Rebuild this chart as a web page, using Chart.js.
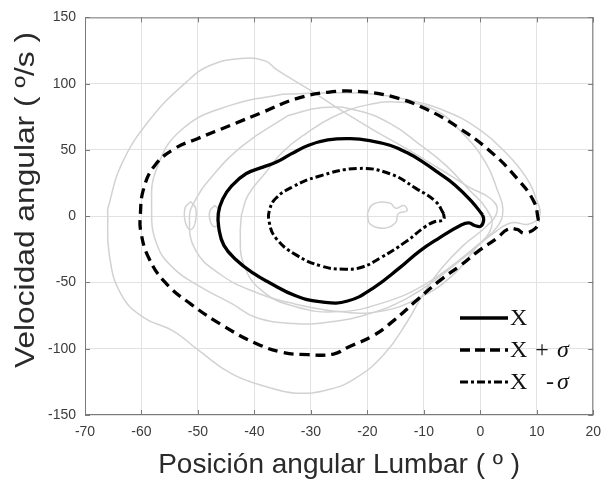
<!DOCTYPE html>
<html>
<head>
<meta charset="utf-8">
<script src="https://cdn.jsdelivr.net/npm/chart.js@4.4.1/dist/chart.umd.min.js"></script>
<style>
  html, body { margin: 0; padding: 0; background: #fff; }
  #wrap { width: 610px; height: 482px; }
</style>
</head>
<body>
<div id="wrap"><canvas id="myChart" width="610" height="482"></canvas></div>
<script>
// 축 눈금
const xTicks = [-70, -60, -50, -40, -30, -20, -10, 0, 10, 20];
const yTicks = [-150, -100, -50, 0, 50, 100, 150];

// 평균 곡선 (X)
const meanX = [0.4, -1.5, -4.5, -7.5, -10.2, -13, -16, -19.5, -23, -27, -30.4, -33.5, -36, -38.5, -41.5, -44, -45.6, -46.4, -46.3, -45.4, -43.2, -40.2, -37.4, -32.7, -28.1, -23.5, -18.9, -14.3, -10.8, -7.3, -3.3, -2, -1, 0.1, 0.6, 0.4];
const meanY = [1, 11, 23.6, 33, 41, 48, 53.5, 57, 58.5, 57.5, 53.5, 47, 41, 37, 32, 23, 13, 2, -9, -22, -33, -43, -50, -60, -64.7, -64, -54, -39, -26.5, -16.5, -6.4, -5, -7, -7.5, -3, 1];

// X + sigma
const plusX = [10.3, 9.5, 6.5, 1.9, -3.9, -9.7, -15.4, -21.2, -27, -32.7, -38.5, -44.3, -50.1, -54.1, -57.6, -59.6, -60.2, -60.1, -58.7, -55.8, -51.2, -45.4, -39.7, -35, -30.5, -26, -23.5, -18.9, -15.4, -11.4, -7.3, -3.3, -0.4, 3, 4.8, 6.5, 7.8, 9.8, 10.3];
const plusY = [-3, 11, 28.5, 48.5, 67, 81, 90, 94, 93.5, 88.5, 78.5, 68.5, 58.5, 51, 38.5, 21, 1, -12, -31.5, -50, -66.5, -83, -96, -102.7, -104.5, -104, -99, -90, -79, -64, -49, -36.5, -26.5, -16.5, -10, -10, -12.7, -9, -3];

// X - sigma
const minusX = [-6.5, -7.9, -11.4, -16, -21.7, -28.7, -33.3, -36.2, -37.3, -37.4, -36.2, -32.7, -28.1, -24, -21, -17.7, -13.1, -9.7, -8, -6.5, -6.5];
const minusY = [2, 11, 21, 32, 36, 30, 22, 13.5, 5, -4, -16.5, -29, -37.7, -40, -38.5, -31.5, -19, -7.7, -4, -2.7, 2];

// 개별 시행 (회색)
const trial1X = [-66, -63.6, -58.4, -52.1, -48, -42.3, -38, -36.2, -30.5, -24.7, -18.9, -13.1, -7.3, -2, 1.9, 3, 1, -3, -7, -10, -13, -17, -22, -27, -32.7, -37.6, -44, -49.8, -54.4, -59.6, -63.6, -65.7, -66];
const trial1Y = [5, 38.5, 73.5, 101, 113.5, 119, 117, 111, 96, 80, 65, 51, 36, 22, 13, 4, -8, -22, -40, -58, -80, -104, -122, -131, -133.5, -129, -119, -101.5, -86.5, -76.5, -59, -29, 5];
const trial2X = [-35, -28, -20, -13, -6, 0, 4.5, 8, 10, 10.5, 8.5, 5.5, 2, -2, -7, -13, -20, -27, -33, -39.7, -44, -49.7, -54.4, -57.3, -58.2, -57.3, -52.7, -44, -35];
const trial2Y = [92, 93, 92.5, 88, 79, 65, 48, 30, 12, 0, -6, -5, -14, -28, -45, -62, -74, -80, -81, -76.5, -66, -53, -39, -21, 6, 36, 66, 84, 92];
const trial3X = [-34, -42, -47.8, -50.6, -51.5, -50.5, -46, -40, -33, -25, -18, -11, -5, -1, 2, 1, -2, -6, -11, -16, -22, -28, -34];
const trial3Y = [76, 53.5, 28.5, 11, 0, -25, -44, -57, -66, -72, -72, -62, -45, -25, -8, 6, 20, 38, 55, 70, 80, 82, 76];
const trial4X = [-42.3, -41.1, -38, -35, -31, -26, -20, -14, -8, -3, 1, 3, 4, 3, 0, -4, -10, -17, -25, -33, -39, -42, -42.5, -42.3];
const trial4Y = [1, 16, 33, 48.5, 62, 75, 84, 86, 80, 62, 40, 20, 5, -8, -20, -34, -52, -65, -72, -68, -55, -35, -15, 1];
const loopAX = [-51.3, -50.4, -50.5, -51.3, -52.2, -52.3, -51.3];
const loopAY = [11, 6, -5, -10, -5, 6, 11];
const loopBX = [-47, -46.2, -46.3, -47, -47.8, -47.9, -47];
const loopBY = [8, 4, -4, -8, -4, 4, 8];
const loopCX = [-20, -19, -16, -15, -13.5, -13, -14.5, -15, -17, -19.5, -20];
const loopCY = [2, 9, 10, 6, 8, 4, 2, -5, -9, -6, 2];

const grayLoops = [
  [trial1X, trial1Y], [trial2X, trial2Y], [trial3X, trial3Y], [trial4X, trial4Y],
  [loopAX, loopAY], [loopBX, loopBY], [loopCX, loopCY]
];

// x, y 배열을 {x, y} 점으로 변환
function toPoints(xs, ys) {
  return xs.map((v, i) => ({ x: v, y: ys[i] }));
}

const sansFont = '"Liberation Sans", Arial, sans-serif';
const serifFont = '"Liberation Serif", "Times New Roman", serif';

// 회색 데이터셋
const grayDatasets = grayLoops.map(([xs, ys]) => ({
  data: toPoints(xs, ys),
  showLine: true,
  borderColor: '#d2d2d2',
  borderWidth: 1.5,
  pointRadius: 0,
  tension: 0.45,
  order: 2
}));

// 검은 곡선 데이터셋
const blackDatasets = [
  { data: toPoints(meanX, meanY), borderDash: [], borderWidth: 3.3 },
  { data: toPoints(plusX, plusY), borderDash: [10, 6], borderWidth: 3.3 },
  { data: toPoints(minusX, minusY), borderDash: [8, 3, 3, 3], borderWidth: 3 }
].map(d => Object.assign(d, {
  showLine: true,
  borderColor: '#000',
  pointRadius: 0,
  tension: 0.45,
  order: 1
}));

// 박스 테두리 + 안쪽 눈금 (MATLAB 스타일)
const boxPlugin = {
  id: 'boxTicks',
  afterDatasetsDraw(chart) {
    const { ctx, chartArea: a, scales: { x, y } } = chart;
    ctx.save();
    ctx.strokeStyle = '#7a7a7a';
    ctx.lineWidth = 1;
    ctx.strokeRect(a.left + 0.5, a.top + 0.5, a.right - a.left - 1, a.bottom - a.top - 1);
    ctx.beginPath();
    xTicks.forEach(v => {
      const px = Math.round(x.getPixelForValue(v)) + 0.5;
      ctx.moveTo(px, a.bottom); ctx.lineTo(px, a.bottom - 5);
      ctx.moveTo(px, a.top); ctx.lineTo(px, a.top + 5);
    });
    yTicks.forEach(v => {
      const py = Math.round(y.getPixelForValue(v)) + 0.5;
      ctx.moveTo(a.left, py); ctx.lineTo(a.left + 5, py);
      ctx.moveTo(a.right, py); ctx.lineTo(a.right - 5, py);
    });
    ctx.stroke();
    ctx.restore();
  }
};

// y축 제목 (원본 그림이 세로로 늘어나 있어서 직접 그림)
const yTitlePlugin = {
  id: 'yTitle',
  afterDraw(chart) {
    const { ctx } = chart;
    const text = 'Velocidad angular ( º/s )';
    ctx.save();
    ctx.font = '28px ' + sansFont;
    ctx.fillStyle = '#2a2a2a';
    ctx.textAlign = 'center';
    ctx.textBaseline = 'middle';
    const w = ctx.measureText(text).width;
    ctx.translate(26, 200);
    ctx.rotate(-Math.PI / 2);
    ctx.scale(336 / w, 1);
    ctx.fillText(text, 0, 0);
    ctx.restore();
  }
};

// 범례 (오른쪽 아래, 테두리 없음)
const legendItems = [
  { dash: [], width: 3.3, pre: 'X', sign: '' },
  { dash: [10, 5], width: 3.3, pre: 'X', sign: '+' },
  { dash: [8, 3, 3, 3], width: 3, pre: 'X', sign: '-' }
];
const legendPlugin = {
  id: 'sigmaLegend',
  afterDraw(chart) {
    const { ctx } = chart;
    ctx.save();
    ctx.fillStyle = '#111';
    ctx.textBaseline = 'middle';
    legendItems.forEach((item, i) => {
      const rowY = 318 + i * 32;
      ctx.strokeStyle = '#000';
      ctx.lineWidth = item.width;
      ctx.setLineDash(item.dash);
      ctx.beginPath();
      ctx.moveTo(460, rowY);
      ctx.lineTo(508, rowY);
      ctx.stroke();
      ctx.setLineDash([]);
      ctx.font = '24px ' + serifFont;
      ctx.textAlign = 'left';
      ctx.fillText(item.pre, 510, rowY + 1);
      if (item.sign) {
        ctx.textAlign = 'center';
        ctx.fillText(item.sign, item.sign === '+' ? 542 : 550, rowY + 1);
        ctx.font = 'italic 24px ' + serifFont;
        ctx.textAlign = 'left';
        ctx.fillText('\u03c3', 557, rowY + 1);
      }
    });
    ctx.restore();
  }
};

const ctx = document.getElementById('myChart').getContext('2d');
const myChart = new Chart(ctx, {
  type: 'scatter',
  data: { datasets: blackDatasets.concat(grayDatasets) },
  plugins: [boxPlugin, yTitlePlugin, legendPlugin],
  options: {
    responsive: false,
    devicePixelRatio: 1,
    animation: false,
    layout: { padding: { top: 15, right: 7, left: 0, bottom: 0 } },
    plugins: {
      legend: { display: false },
      tooltip: { enabled: false }
    },
    scales: {
      x: {
        type: 'linear',
        min: -70,
        max: 20,
        afterBuildTicks: scale => { scale.ticks = xTicks.map(v => ({ value: v })); },
        afterFit: scale => { scale.height = 67; },
        border: { display: false },
        grid: { color: '#e2e2e2', drawTicks: false },
        ticks: { color: '#3c3c3c', font: { family: sansFont, size: 14 }, padding: 9, maxRotation: 0 },
        title: {
          display: true,
          text: 'Posición angular Lumbar ( º )',
          color: '#2a2a2a',
          font: { family: sansFont, size: 28 },
          padding: { top: 0, bottom: 0 }
        }
      },
      y: {
        type: 'linear',
        min: -150,
        max: 150,
        afterBuildTicks: scale => { scale.ticks = yTicks.map(v => ({ value: v })); },
        afterFit: scale => { scale.width = 85; },
        border: { display: false },
        grid: { color: '#e2e2e2', drawTicks: false },
        ticks: { color: '#3c3c3c', font: { family: sansFont, size: 14 }, padding: 9 }
      }
    }
  }
});
</script>
</body>
</html>
